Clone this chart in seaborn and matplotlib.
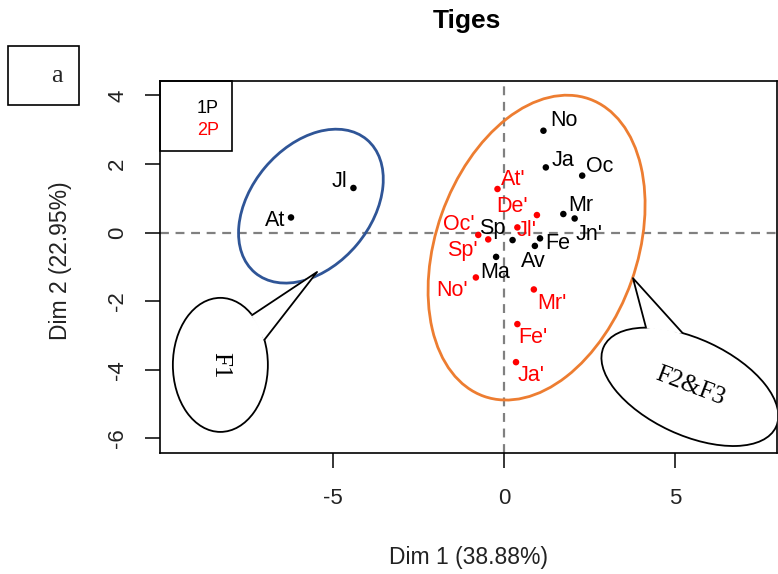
import numpy as np
import pandas as pd
import matplotlib
matplotlib.use("Agg")
import matplotlib.pyplot as plt
import seaborn as sns
from matplotlib.patches import Ellipse, Polygon, Rectangle

# individuals (PCA coordinates)
labels_1p = ["At", "Jl", "No", "Ja", "Oc", "Mr", "Jn'", "Sp", "Fe", "Av", "Ma"]
dim1_1p = [-6.21, -4.39, 1.15, 1.22, 2.28, 1.73, 2.06, 0.25, 1.05, 0.90, -0.23]
dim2_1p = [0.44, 1.30, 2.97, 1.90, 1.66, 0.54, 0.41, -0.22, -0.17, -0.39, -0.71]

labels_2p = ["At'", "De'", "Jl'", "Oc'", "Sp'", "No'", "Mr'", "Fe'", "Ja'"]
dim1_2p = [-0.19, 0.39, 0.96, -0.75, -0.46, -0.82, 0.87, 0.39, 0.35]
dim2_2p = [1.27, 0.15, 0.51, -0.07, -0.20, -1.31, -1.66, -2.67, -3.78]

groups = ["1P", "2P"]
colors = {"1P": "black", "2P": "red"}
xticks = [-5, 0, 5]
yticks = [-6, -4, -2, 0, 2, 4]

df = pd.DataFrame({
    "label": labels_1p + labels_2p,
    "dim1": dim1_1p + dim1_2p,
    "dim2": dim2_1p + dim2_2p,
    "group": ["1P"] * len(labels_1p) + ["2P"] * len(labels_2p),
})

# label offsets in pixels (dx right, dy down), same order as df
label_offsets = [(-16, 3), (-14, -6), (20, -10), (17, -7), (17, -9), (17, -9),
                 (14, 16), (-20, -12), (18, 5), (-2, 16), (-1, 16),
                 (16, -10), (-5, -21), (-10, 15), (-19, -10), (-26, 11),
                 (-24, 13), (18, 14), (16, 13), (15, 13)]

sns.set_theme(style="white")
plt.rcParams["font.family"] = ["Liberation Sans", "DejaVu Sans"]
plt.rcParams["axes.unicode_minus"] = False

fig = plt.figure(figsize=(7.78, 5.74), dpi=100)
W, H = 778, 574
ax = fig.add_axes([160 / W, (H - 453) / H, 617 / W, 372 / H])

ax.axhline(0, color="#808080", lw=1.6, ls=(0, (4, 3)), zorder=1)
ax.axvline(0, color="#808080", lw=1.6, ls=(0, (4, 3)), zorder=1)

sns.scatterplot(data=df, x="dim1", y="dim2", hue="group", palette=colors,
                s=22, linewidth=0, legend=False, ax=ax, zorder=3)

for (_, row), (dx, dy) in zip(df.iterrows(), label_offsets):
    ax.annotate(row["label"], (row["dim1"], row["dim2"]), xytext=(dx, -dy),
                textcoords="offset pixels", ha="center", va="center",
                fontsize=15.5, color=colors[row["group"]], zorder=4)

# group ellipses
ax.add_patch(Ellipse((-5.63, 0.77), 5.07, 3.5, angle=50, fill=False,
                     edgecolor="#2F5597", lw=2, zorder=2))
ax.add_patch(Ellipse((0.95, -0.44), 9.2, 5.87, angle=70.5, fill=False,
                     edgecolor="#ED7D31", lw=2, zorder=2))


def bubble(center, width, height, angle, tip, t1, t2, text, rot):
    th = np.deg2rad(angle)
    u = np.array([np.cos(th), np.sin(th)])
    v = np.array([-np.sin(th), np.cos(th)])
    c = np.array(center)

    def pt(t):
        t = np.deg2rad(t)
        return c + width / 2 * np.cos(t) * u + height / 2 * np.sin(t) * v

    ax.add_patch(Ellipse(center, width, height, angle=angle, facecolor="white",
                         edgecolor="black", lw=1.3, zorder=5))
    p1, p2 = pt(t1), pt(t2)
    ax.add_patch(Polygon([tip, p1, p2], closed=True, facecolor="white",
                         edgecolor="white", lw=1.0, zorder=6))
    ax.plot([p1[0], tip[0], p2[0]], [p1[1], tip[1], p2[1]], color="black",
            lw=1.3, zorder=7)
    ax.text(c[0], c[1], text, rotation=rot, ha="center", va="center",
            rotation_mode="anchor", family="Liberation Serif", fontsize=18,
            color="black", zorder=8)


bubble((-8.27, -3.86), 2.77, 3.91, 0, (-5.45, -1.15), 48, 22, "F1", -90)
bubble((5.42, -4.50), 5.54, 2.80, -25, (3.76, -1.33), 133, 108, "F2&F3", -21)

ax.set_xlim(-10.03, 7.96)
ax.set_ylim(-6.43, 4.42)
ax.set_xticks(xticks)
ax.set_yticks(yticks)
ax.tick_params(axis="both", direction="out", length=11, width=1.1,
               color="black", labelsize=16, labelcolor="#222222", left=True,
               bottom=True)
ax.tick_params(axis="x", pad=14)
ax.tick_params(axis="y", pad=12, labelrotation=90)
for lab in ax.get_yticklabels():
    lab.set_va("center")
for sp in ax.spines.values():
    sp.set_color("black")
    sp.set_linewidth(1.2)

ax.set_xlabel("Dim 1 (38.88%)", fontsize=16.5, color="#222222")
ax.set_ylabel("Dim 2 (22.95%)", fontsize=16.5, color="#222222")
ax.xaxis.set_label_coords(0.5, -0.25)
ax.yaxis.set_label_coords(-0.142, 0.516)

fig.text(467 / W, 1 - 21 / H, "Tiges", ha="center", va="center",
         fontsize=19, fontweight="bold", color="black")

# legend (text only, like base R)
ax.add_patch(Rectangle((0, 0.812), 0.1167, 0.188, transform=ax.transAxes,
                       fill=False, edgecolor="black", lw=1.2, clip_on=False,
                       zorder=9))
for g, yy in zip(groups, [0.925, 0.868]):
    ax.text(0.0956, yy, g, transform=ax.transAxes, ha="right", va="center",
            fontsize=13, color=colors[g], zorder=9)

# panel tag
fig.add_artist(Rectangle((8 / W, 1 - 105 / H), 71 / W, 59 / H,
                         transform=fig.transFigure, fill=False,
                         edgecolor="black", lw=1.2))
fig.text(57 / W, 1 - 76 / H, "a", ha="center", va="center",
         family="Liberation Serif", fontsize=19)

fig.savefig("out.png", dpi=100)
